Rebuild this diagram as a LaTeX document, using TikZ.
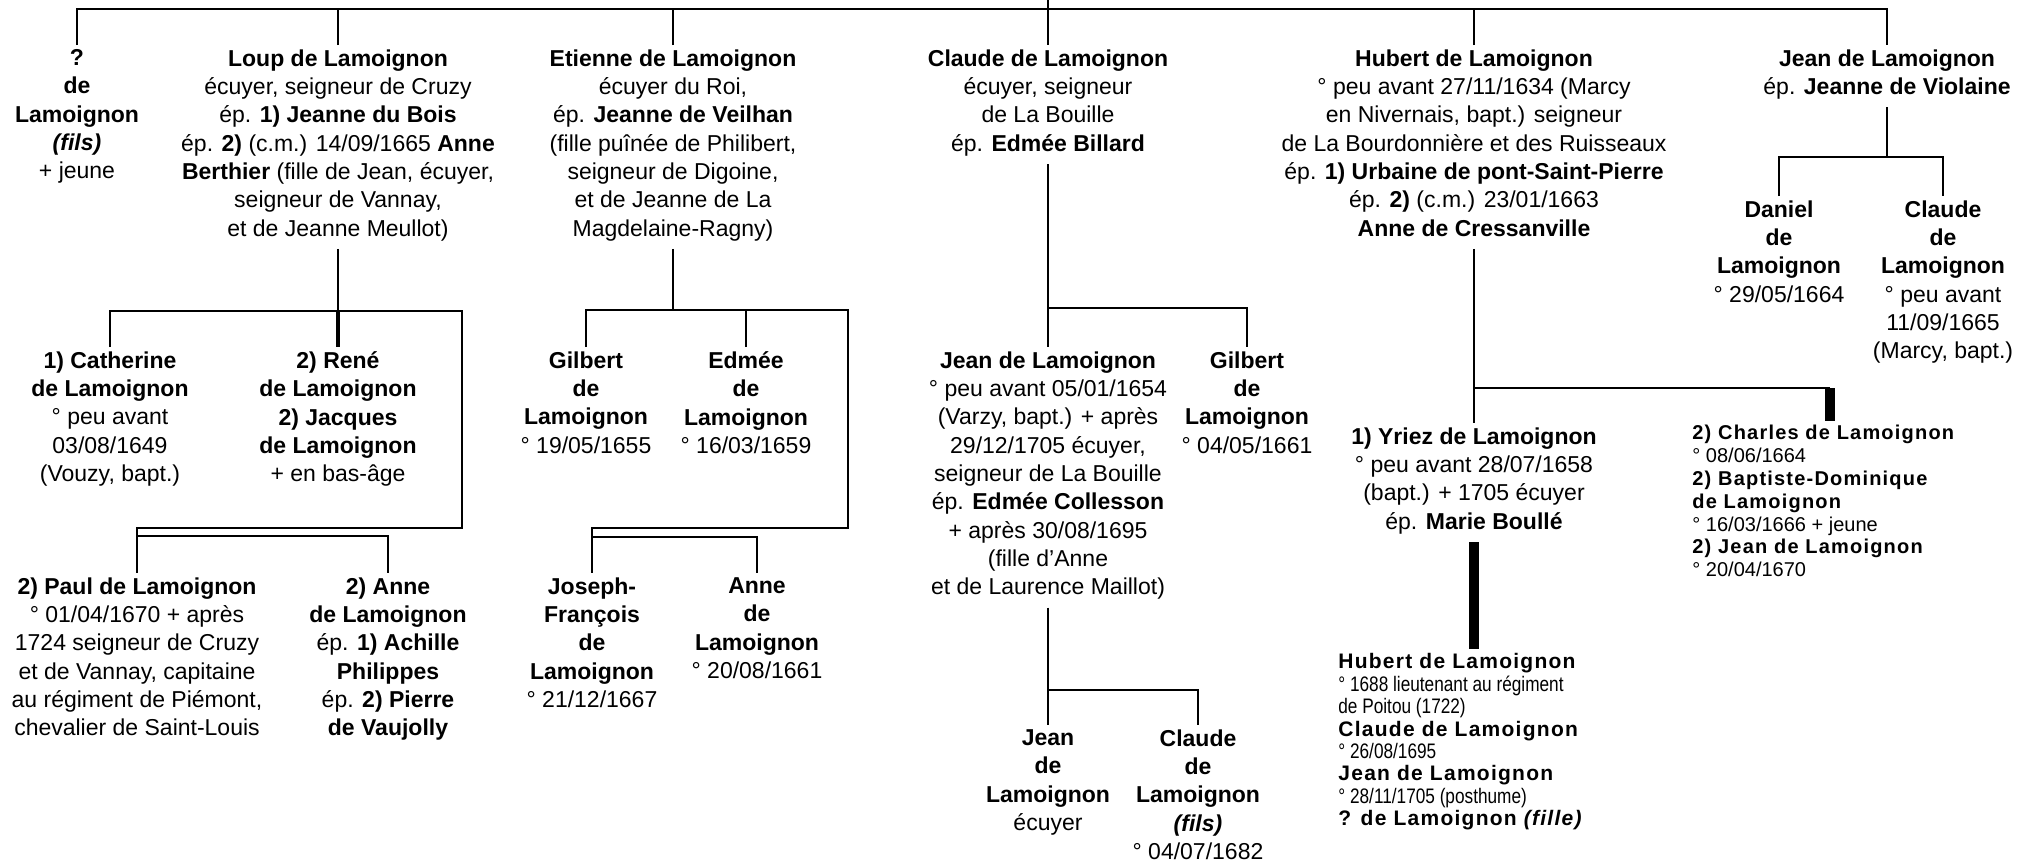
\documentclass[tikz,border=0pt]{standalone}
\usepackage{fontspec}
\setmainfont{Liberation Sans}
\newfontfamily\narrowfont[FakeStretch=0.82]{Liberation Sans}
\newfontfamily\spacedfont[LetterSpace=6]{Liberation Sans}
\newcommand\mainsz{\fontsize{11.5}{14.15}\selectfont}
\newcommand\smallsz{\fontsize{10}{11.4}\selectfont}
\newcommand\narrowsz{\fontsize{10.5}{11.2}\selectfont}
\newcommand\lsb[1]{{\spacedfont\bfseries #1}}
\newcommand\nrw[1]{{\narrowfont #1}}
\tikzset{
  person/.style={anchor=north, yshift=9.9pt, inner xsep=0pt, inner ysep=2pt,
    align=center, font=\mainsz, execute at begin node=\strut, execute at end node=\strut},
  smallblock/.style={anchor=north west, yshift=7.98pt, inner xsep=0pt, inner ysep=2pt,
    align=left, font=\smallsz, execute at begin node=\strut, execute at end node=\strut},
  narrowblock/.style={anchor=north west, yshift=7.84pt, inner xsep=0pt, inner ysep=2pt,
    align=left, font=\narrowsz, execute at begin node=\strut, execute at end node=\strut},
  link/.style={line width=1.35pt},
  heavylink/.style={line width=2.35pt},
  heavierlink/.style={line width=4.7pt}
}
\begin{document}
\begin{tikzpicture}[x=0.5pt,y=-0.5pt]
\useasboundingbox (0,0) rectangle (2018,862);
% helper coordinates
\coordinate (root) at (1048,0);
\coordinate (topbar) at (0,9);
\coordinate (lb) at (0,311);
\coordinate (lr) at (462,0);
\coordinate (lb2) at (0,528);
\coordinate (lb3) at (0,536);
\coordinate (eb) at (0,310);
\coordinate (er) at (848,0);
\coordinate (eb2) at (0,528);
\coordinate (eb3) at (0,537);
\coordinate (cb) at (0,308);
\coordinate (jb) at (0,690);
\coordinate (hb) at (0,388);
\coordinate (chx) at (1830,0);
\coordinate (jnb) at (0,157);

% generation 1
\node[person] (q) at (77,65) {\textbf{?}\\ \textbf{de}\\ \textbf{Lamoignon}\\ \textbf{\textit{(fils)}}\\ + jeune};
\node[person] (loup) at (338,65) {\textbf{Loup de Lamoignon}\\ écuyer, seigneur de Cruzy\\ ép. \textbf{1) Jeanne du Bois}\\ ép. \textbf{2)} (c.m.) 14/09/1665 \textbf{Anne}\\ \textbf{Berthier} (fille de Jean, écuyer,\\ seigneur de Vannay,\\ et de Jeanne Meullot)};
\node[person] (etienne) at (673,65) {\textbf{Etienne de Lamoignon}\\ écuyer du Roi,\\ ép. \textbf{Jeanne de Veilhan}\\ (fille puînée de Philibert,\\ seigneur de Digoine,\\ et de Jeanne de La\\ Magdelaine-Ragny)};
\node[person] (claude) at (1048,65) {\textbf{Claude de Lamoignon}\\ écuyer, seigneur\\ de La Bouille\\ ép. \textbf{Edmée Billard}};
\node[person] (hubert) at (1474,65) {\textbf{Hubert de Lamoignon}\\ ° peu avant 27/11/1634 (Marcy\\ en Nivernais, bapt.) seigneur\\ de La Bourdonnière et des Ruisseaux\\ ép. \textbf{1) Urbaine de pont-Saint-Pierre}\\ ép. \textbf{2)} (c.m.) 23/01/1663\\ \textbf{Anne de Cressanville}};
\node[person] (jean) at (1887,65) {\textbf{Jean de Lamoignon}\\ ép. \textbf{Jeanne de Violaine}};

% Jean's children
\node[person] (daniel) at (1779,216) {\textbf{Daniel}\\ \textbf{de}\\ \textbf{Lamoignon}\\ ° 29/05/1664};
\node[person] (claudeb) at (1943,216) {\textbf{Claude}\\ \textbf{de}\\ \textbf{Lamoignon}\\ ° peu avant\\ 11/09/1665\\ (Marcy, bapt.)};

% Loup's children
\node[person] (cath) at (110,367) {\textbf{1) Catherine}\\ \textbf{de Lamoignon}\\ ° peu avant\\ 03/08/1649\\ (Vouzy, bapt.)};
\node[person] (rene) at (338,367) {\textbf{2) René}\\ \textbf{de Lamoignon}\\ \textbf{2) Jacques}\\ \textbf{de Lamoignon}\\ + en bas-âge};
\node[person] (paul) at (137,593) {\textbf{2) Paul de Lamoignon}\\ ° 01/04/1670 + après\\ 1724 seigneur de Cruzy\\ et de Vannay, capitaine\\ au régiment de Piémont,\\ chevalier de Saint-Louis};
\node[person] (annel) at (388,593) {\textbf{2) Anne}\\ \textbf{de Lamoignon}\\ ép. \textbf{1) Achille}\\ \textbf{Philippes}\\ ép. \textbf{2) Pierre}\\ \textbf{de Vaujolly}};

% Etienne's children
\node[person] (gilberte) at (586,367) {\textbf{Gilbert}\\ \textbf{de}\\ \textbf{Lamoignon}\\ ° 19/05/1655};
\node[person] (edmee) at (746,367) {\textbf{Edmée}\\ \textbf{de}\\ \textbf{Lamoignon}\\ ° 16/03/1659};
\node[person] (joseph) at (592,593) {\textbf{Joseph-}\\ \textbf{François}\\ \textbf{de}\\ \textbf{Lamoignon}\\ ° 21/12/1667};
\node[person] (annee) at (757,593) {\textbf{Anne}\\ \textbf{de}\\ \textbf{Lamoignon}\\ ° 20/08/1661};

% Claude's children
\node[person] (jeanc) at (1048,367) {\textbf{Jean de Lamoignon}\\ ° peu avant 05/01/1654\\ (Varzy, bapt.) + après\\ 29/12/1705 écuyer,\\ seigneur de La Bouille\\ ép. \textbf{Edmée Collesson}\\ + après 30/08/1695\\ (fille d’Anne\\ et de Laurence Maillot)};
\node[person] (gilbertc) at (1247,367) {\textbf{Gilbert}\\ \textbf{de}\\ \textbf{Lamoignon}\\ ° 04/05/1661};
\node[person] (jeanj) at (1048,745) {\textbf{Jean}\\ \textbf{de}\\ \textbf{Lamoignon}\\ écuyer};
\node[person] (claudej) at (1198,745) {\textbf{Claude}\\ \textbf{de}\\ \textbf{Lamoignon}\\ \textbf{\textit{(fils)}}\\ ° 04/07/1682};

% Hubert's children
\node[person] (yriez) at (1474,443) {\textbf{1) Yriez de Lamoignon}\\ ° peu avant 28/07/1658\\ (bapt.) + 1705 écuyer\\ ép. \textbf{Marie Boullé}};
\node[smallblock] (charles) at (1692,437) {\lsb{2) Charles de Lamoignon}\\ ° 08/06/1664\\ \lsb{2) Baptiste-Dominique}\\ \lsb{de Lamoignon}\\ ° 16/03/1666 + jeune\\ \lsb{2) Jean de Lamoignon}\\ ° 20/04/1670};
\node[narrowblock] (hubertjr) at (1338,665) {\lsb{Hubert de Lamoignon}\\ \nrw{° 1688 lieutenant au régiment}\\ \nrw{de Poitou (1722)}\\ \lsb{Claude de Lamoignon}\\ \nrw{° 26/08/1695}\\ \lsb{Jean de Lamoignon}\\ \nrw{° 28/11/1705 (posthume)}\\ \lsb{? de Lamoignon \textit{(fille)}}};

% connectors: generation 1
\draw[link] (root) -- (claude.north);
\draw[link] (q.north) -- (q.north |- topbar) -- (jean.north |- topbar) -- (jean.north);
\foreach \n in {loup,etienne,hubert} \draw[link] (\n.north) -- (\n.north |- topbar);

% Loup
\draw[link] (loup.south) -- (loup.south |- lb);
\draw[link] (cath.north) -- (cath.north |- lb) -- (lr |- lb) -- (lr |- lb2) -- (paul.north |- lb2) -- (paul.north);
\draw[heavylink] (rene.north |- lb) -- (rene.north);
\draw[link] (paul.north |- lb3) -- (annel.north |- lb3) -- (annel.north);

% Etienne
\draw[link] (etienne.south) -- (etienne.south |- eb);
\draw[link] (gilberte.north) -- (gilberte.north |- eb) -- (er |- eb) -- (er |- eb2) -- (joseph.north |- eb2) -- (joseph.north);
\draw[link] (edmee.north) -- (edmee.north |- eb);
\draw[link] (joseph.north |- eb3) -- (annee.north |- eb3) -- (annee.north);

% Claude
\draw[link] (claude.south) -- (jeanc.north);
\draw[link] (jeanc.north |- cb) -- (gilbertc.north |- cb) -- (gilbertc.north);
\draw[link] (jeanc.south) -- (jeanj.north);
\draw[link] (jeanj.north |- jb) -- (claudej.north |- jb) -- (claudej.north);

% Hubert
\draw[link] (hubert.south) -- (yriez.north);
\draw[link] (yriez.north |- hb) -- (chx |- hb);
\draw[heavierlink] (chx |- hb) -- (chx |- charles.north);
\draw[heavierlink] (yriez.south) -- (yriez.south |- hubertjr.north);

% Jean
\draw[link] (jean.south) -- (jean.south |- jnb);
\draw[link] (daniel.north) -- (daniel.north |- jnb) -- (claudeb.north |- jnb) -- (claudeb.north);
\end{tikzpicture}
\end{document}
